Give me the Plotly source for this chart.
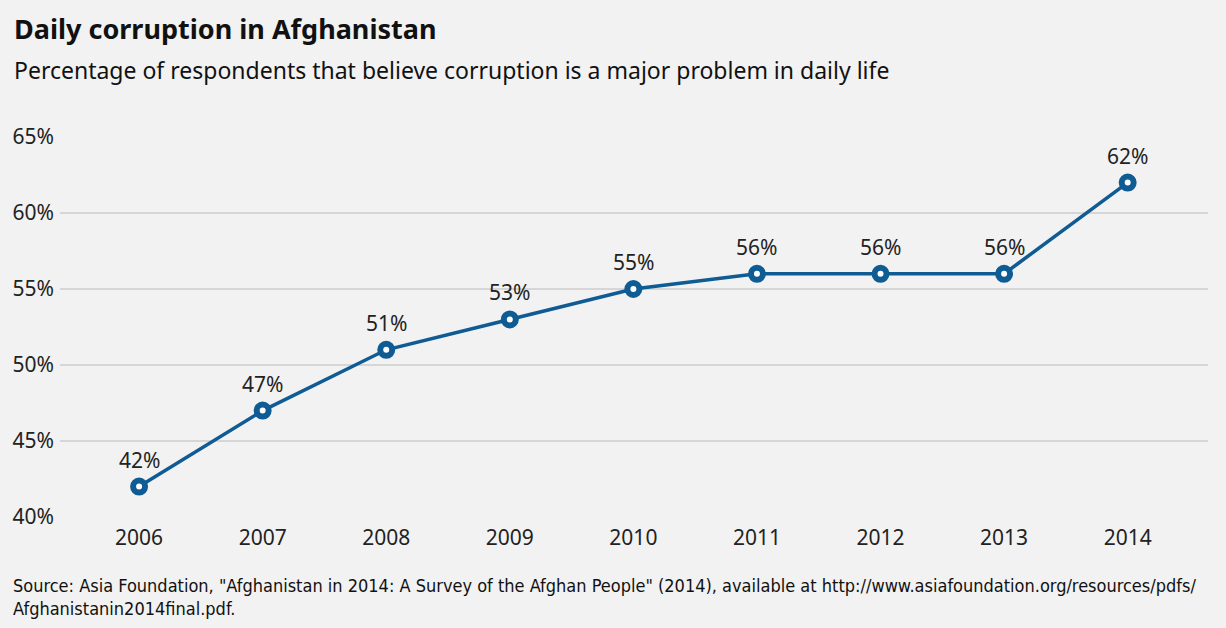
import plotly.graph_objects as go

years = [2006, 2007, 2008, 2009, 2010, 2011, 2012, 2013, 2014]
values = [42, 47, 51, 53, 55, 56, 56, 56, 62]
labels = [f"{v}%" for v in values]
y_ticks = [40, 45, 50, 55, 60, 65]
y_tick_labels = [f"{t}%" for t in y_ticks]

title = "Daily corruption in Afghanistan"
subtitle = "Percentage of respondents that believe corruption is a major problem in daily life"
source = ('Source: Asia Foundation, "Afghanistan in 2014: A Survey of the Afghan People" (2014), '
          'available at http://www.asiafoundation.org/resources/pdfs/<br>Afghanistanin2014final.pdf.')

blue = "#0f5b93"
bg = "#f2f2f2"
font = "Noto Sans"
W, H = 1226, 628
L, R, T, B = 60, 18, 137, 111
pw, ph = W - L - R, H - T - B


def px(x):
    return (x - L) / pw


def py(y):
    return (H - B - y) / ph


fig = go.Figure()
fig.add_trace(go.Scatter(
    x=years, y=values, mode="lines+markers",
    line=dict(color=blue, width=3.5),
    marker=dict(size=12, color="white", line=dict(color=blue, width=6)),
    cliponaxis=False, hoverinfo="skip", showlegend=False,
))

annotations = [
    dict(x=yr, y=v, text=lab, xref="x", yref="y", showarrow=False,
         yshift=27, xanchor="center", yanchor="middle",
         font=dict(size=21, family=font, color="#222"))
    for yr, v, lab in zip(years, values, labels)
]
annotations += [
    dict(text=f"<b>{title}</b>", x=px(12), y=py(28), xref="paper", yref="paper",
         xanchor="left", yanchor="middle", showarrow=False,
         font=dict(size=27, family=font, color="#111")),
    dict(text=subtitle, x=px(12), y=py(70), xref="paper", yref="paper",
         xanchor="left", yanchor="middle", showarrow=False,
         font=dict(size=23, family=font, color="#111")),
    dict(text=source, x=px(11), y=py(597), xref="paper", yref="paper",
         xanchor="left", yanchor="middle", showarrow=False, align="left",
         font=dict(size=18, family="DejaVu Sans Condensed, Roboto Condensed, Lato", color="#111")),
]

fig.update_layout(
    width=W, height=H,
    paper_bgcolor=bg, plot_bgcolor=bg,
    margin=dict(l=L, r=R, t=T, b=B),
    font=dict(family=font, color="#222"),
    xaxis=dict(range=[2005.36, 2014.65], tickvals=years, ticktext=[str(y) for y in years],
               showgrid=False, zeroline=False, showline=False,
               tickfont=dict(size=21, family=font, color="#222"), ticks="", ticklen=0,
               ticklabelstandoff=6),
    yaxis=dict(range=[40, 65], tickvals=y_ticks, ticktext=y_tick_labels,
               showgrid=True, gridcolor="#d6d6d6", gridwidth=2, zeroline=False,
               showline=False, tickfont=dict(size=21, family=font, color="#222"), ticks="",
               ticklabelstandoff=5),
    annotations=annotations,
)
fig.write_html("out.html", config={"displayModeBar": False},
               post_script="document.body.style.margin='0';")
